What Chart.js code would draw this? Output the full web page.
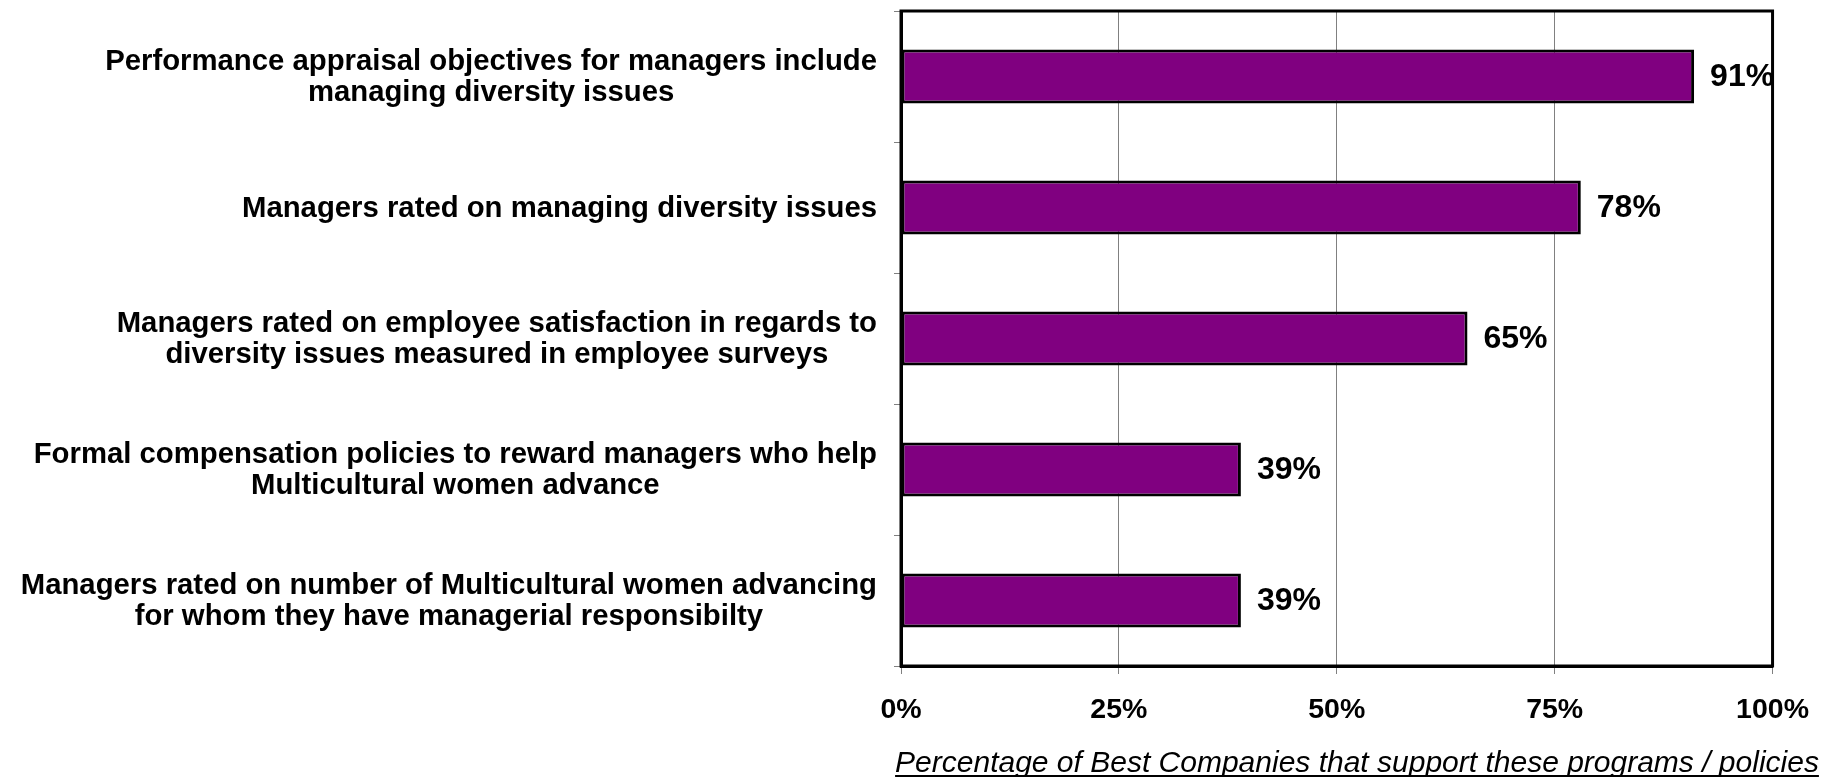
<!DOCTYPE html>
<html>
<head>
<meta charset="utf-8">
<script src="https://cdn.jsdelivr.net/npm/chart.js@4.4.0/dist/chart.umd.min.js"></script>
<style>
    html, body { margin: 0; padding: 0; background: #fff; overflow: hidden; }
</style>
</head>
<body>
<canvas id="c" width="1828" height="777"></canvas>
<script>
const categories = [
    ['Performance appraisal objectives for managers include', 'managing diversity issues'],
    ['Managers rated on managing diversity issues'],
    ['Managers rated on employee satisfaction in regards to', 'diversity issues measured in employee surveys'],
    ['Formal compensation policies to reward managers who help', 'Multicultural women advance'],
    ['Managers rated on number of Multicultural women advancing', 'for whom they have managerial responsibilty']
];
const values = [91, 78, 65, 39, 39];
const tickLabels = ['0%', '25%', '50%', '75%', '100%'];
const xTitle = 'Percentage of Best Companies that support these programs / policies';

const FONT = '"Liberation Sans", Arial, sans-serif';

// box round the plot area
const frame = {
    id: 'frame',
    afterDraw(chart) {
        const { ctx, chartArea: a } = chart;
        ctx.save();
        ctx.strokeStyle = '#000';
        ctx.lineWidth = 3;
        ctx.strokeRect(a.left, a.top, a.right - a.left, a.bottom - a.top);
        ctx.restore();
    }
};

// value labels at the end of each bar
const barLabels = {
    id: 'barLabels',
    afterDatasetsDraw(chart) {
        const ctx = chart.ctx;
        const meta = chart.getDatasetMeta(0);
        ctx.save();
        ctx.font = 'bold 32px ' + FONT;
        ctx.fillStyle = '#000';
        ctx.textAlign = 'left';
        ctx.textBaseline = 'middle';
        meta.data.forEach((bar, i) => {
            ctx.fillText(values[i] + '%', bar.x + 16, bar.y + 1);
        });
        ctx.restore();
    }
};

// category labels: block right aligned, lines centred inside the block
const catLabels = {
    id: 'catLabels',
    afterDraw(chart) {
        const ctx = chart.ctx;
        const y = chart.scales.y;
        const right = chart.chartArea.left - 24;
        const lh = 31.5;
        ctx.save();
        ctx.font = 'bold 29.3px ' + FONT;
        ctx.fillStyle = '#000';
        ctx.textAlign = 'center';
        ctx.textBaseline = 'middle';
        categories.forEach((lines, i) => {
            const cy = y.getPixelForValue(i);
            const w = Math.max(...lines.map(l => ctx.measureText(l).width));
            const cx = right - w / 2;
            const top = cy - (lines.length - 1) * lh / 2;
            lines.forEach((l, j) => ctx.fillText(l, cx, top + j * lh + 1));
        });
        ctx.restore();
    }
};

// italic underlined axis title
const axisTitle = {
    id: 'axisTitle',
    afterDraw(chart) {
        const ctx = chart.ctx;
        ctx.save();
        ctx.font = 'italic 30px ' + FONT;
        ctx.fillStyle = '#000';
        ctx.textAlign = 'center';
        ctx.textBaseline = 'alphabetic';
        const cx = 1357, by = 772;
        ctx.fillText(xTitle, cx, by);
        const w = ctx.measureText(xTitle).width;
        ctx.fillRect(cx - w / 2, by + 3, w, 2);
        ctx.restore();
    }
};

new Chart(document.getElementById('c'), {
    type: 'bar',
    data: {
        labels: categories,
        datasets: [{
            data: values,
            backgroundColor: '#800080',
            borderColor: '#000',
            borderWidth: 3,
            borderSkipped: false,
            categoryPercentage: 1,
            barPercentage: 0.412
        }]
    },
    options: {
        indexAxis: 'y',
        responsive: false,
        animation: false,
        devicePixelRatio: 1,
        layout: { padding: { top: 11, right: 55, left: 0, bottom: 0 } },
        plugins: {
            legend: { display: false },
            tooltip: { enabled: false },
            title: { display: false }
        },
        scales: {
            x: {
                min: 0,
                max: 100,
                afterFit: (s) => { s.height = 111; },
                ticks: {
                    stepSize: 25,
                    color: '#000',
                    padding: 19,
                    font: { family: FONT, size: 28.5, weight: 'bold' },
                    callback: (v) => tickLabels[v / 25]
                },
                grid: { color: '#808080', lineWidth: 1, tickLength: 8 },
                border: { color: '#000', width: 3 }
            },
            y: {
                afterFit: (s) => { s.width = 901; },
                ticks: { display: false },
                grid: {
                    offset: true,
                    drawOnChartArea: false,
                    drawTicks: true,
                    tickLength: 7,
                    color: '#808080'
                },
                border: { color: '#000', width: 3 }
            }
        }
    },
    plugins: [frame, barLabels, catLabels, axisTitle]
});
</script>
</body>
</html>
